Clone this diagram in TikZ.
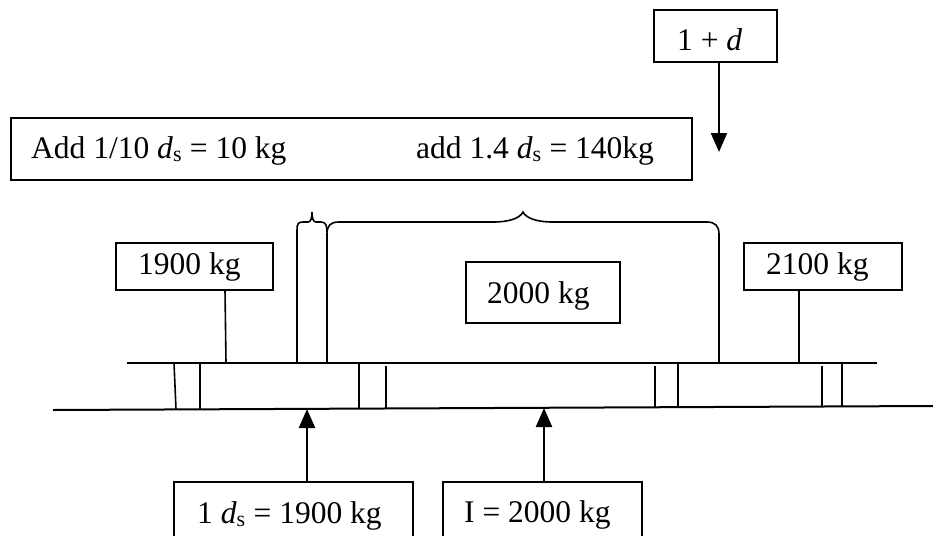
\documentclass[tikz,border=0pt]{standalone}
\usepackage{fontspec}
\setmainfont{Liberation Serif}
\usetikzlibrary{arrows.meta}
\tikzset{
  box/.style={draw, line width=1.9pt, inner sep=0pt, outer sep=0pt},
  txt/.style={anchor=base west, inner sep=0pt, font=\fontsize{31.5}{37}\selectfont},
  ln/.style={line width=1.6pt},
  beam/.style={line width=2pt},
  arr/.style={line width=2.2pt, -{Triangle[length=19pt,width=16pt]}}
}
\newcommand{\ds}{\textit{d}\textsubscript{s}}
\begin{document}
\begin{tikzpicture}[x=1pt,y=-1pt]
\useasboundingbox (0,0) rectangle (933,535);
\clip (0,0) rectangle (933,535);
% boxes
\node[box, minimum width=123, minimum height=52] (bd) at (715.5,36) {};
\node[txt] (td) at (677,50) {1 + \textit{d}};
\node[box, minimum width=681, minimum height=62] (badd) at (351.5,149) {};
\node[txt] (tadd1) at (31,158) {Add 1/10 \ds{} = 10 kg};
\node[txt] (tadd2) at (416,158) {add 1.4 \ds{} = 140kg};
\node[box, minimum width=157, minimum height=47] (b19) at (194.5,266.5) {};
\node[txt] (t19) at (138,274) {1900 kg};
\node[box, minimum width=154, minimum height=61] (b20) at (543,292.5) {};
\node[txt] (t20) at (487,303) {2000 kg};
\node[box, minimum width=158, minimum height=47] (b21) at (823,266.5) {};
\node[txt] (t21) at (766,274) {2100 kg};
\node[box, minimum width=239, minimum height=90] (bds) at (293.5,527) {};
\node[txt] (tds) at (197,523) {1 \ds{} = 1900 kg};
\node[box, minimum width=199, minimum height=90] (bI) at (542.5,527) {};
\node[txt] (tI) at (464,522) {I = 2000 kg};
% coordinates
\coordinate (tipd) at (719,152);
\coordinate (tipds) at (307,409);
\coordinate (tipI) at (544,408);
\coordinate (c19) at (226,363);
\coordinate (c21) at (799,363);
% beams
\draw[beam] (127,363) -- (877,363);
\draw[beam] (53,410) -- (933,406);
% short verticals between beams
\draw[ln] (174,363) -- (176,409);
\draw[ln] (200,363) -- (200,409);
\draw[ln] (359,363) -- (359,409);
\draw[ln] (386,366) -- (386,408);
\draw[ln] (655,366) -- (655,407);
\draw[ln] (678,363) -- (678,407);
\draw[ln] (822,366) -- (822,406);
\draw[ln] (842,363) -- (842,406);
% connectors from labels
\draw[ln] ([xshift=30.5]b19.south) -- (c19);
\draw[ln] ([xshift=-24]b21.south) -- (c21);
% braces with legs
\draw[ln] (297,363) -- (297,230) .. controls (297,224) and (298,222) .. (303,222)
  -- (308,222) .. controls (311,222) and (312,218) .. (312,212)
  .. controls (312,218) and (313,222) .. (316,222) -- (321,222)
  .. controls (326,222) and (327,226) .. (327,232);
\draw[ln] (327,363) -- (327,234) .. controls (327,226) and (330,222) .. (339,222)
  -- (493,222) .. controls (510,222) and (520,218) .. (523,212)
  .. controls (526,218) and (536,222) .. (553,222) -- (707,222)
  .. controls (715,222) and (719,226) .. (719,234) -- (719,363);
% arrows
\draw[arr] ([xshift=3.5]bd.south) -- (tipd);
\draw[arr] ([xshift=13.5]bds.north) -- (tipds);
\draw[arr] ([xshift=1.5]bI.north) -- (tipI);
\end{tikzpicture}
\end{document}
